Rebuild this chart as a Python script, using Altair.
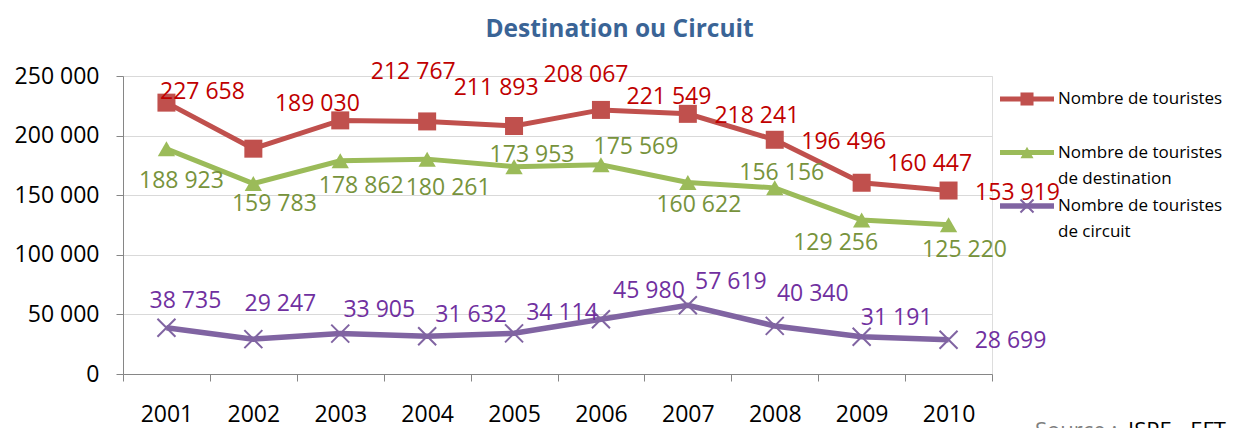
import altair as alt
import pandas as pd

FONT = "Open Sans"

years = ["2001", "2002", "2003", "2004", "2005", "2006", "2007", "2008", "2009", "2010"]
series_names = [
    "Nombre de touristes",
    "Nombre de touristes de destination",
    "Nombre de touristes de circuit",
]
total = [227658, 189030, 212767, 211893, 208067, 221549, 218241, 196496, 160447, 153919]
destination = [188923, 159783, 178862, 180261, 173953, 175569, 160622, 156156, 129256, 125220]
circuit = [38735, 29247, 33905, 31632, 34114, 45980, 57619, 40340, 31191, 28699]
legend_line1 = ["Nombre de touristes", "Nombre de touristes", "Nombre de touristes"]
legend_line2 = ["", "de destination", "de circuit"]
y_ticks = [0, 50000, 100000, 150000, 200000, 250000]
source_prefix = "Source :"
source_name = "ISPE - EFT"

# label nudges (pixels, relative to each point) as placed in the original
nudge_total = [(36, -11), (64, -45), (73, -48), (69, -33), (72, -51),
               (68, -13), (69, 2), (69, 2), (68, -19), (69, 2)]
nudge_dest = [(15, 32), (21, 20), (21, 25), (21, 29), (18, -12),
              (35, -18), (11, 22), (7, -15), (-26, 23), (16, 25)]
nudge_circ = [(19, -27), (27, -35), (39, -24), (44, -21), (48, -20),
              (48, -28), (43, -23), (38, -32), (35, -19), (62, 1)]

rows = []
for name, vals in zip(series_names, [total, destination, circuit]):
    for y, v in zip(years, vals):
        rows.append({"series": name, "year": y, "value": v,
                     "label": f"{v:,}".replace(",", " ")})
df = pd.DataFrame(rows)
leg_df = pd.DataFrame({"series": series_names, "l1": legend_line1, "l2": legend_line2})
src_df = pd.DataFrame({"p": [source_prefix], "n": [source_name]})

x_enc = alt.X(
    "year:O",
    scale=alt.Scale(type="band", domain=years, paddingInner=0, paddingOuter=0),
    bandPosition=0.5,
    title=None,
    axis=alt.Axis(tickBand="extent", labelAngle=0, domainColor="#868686",
                  tickColor="#868686", tickSize=7, labelPadding=22,
                  labelFont=FONT, labelFontSize=23, labelColor="black", grid=False),
)
y_enc = alt.Y(
    "value:Q",
    scale=alt.Scale(domain=[0, 250000], nice=False, zero=True),
    title=None,
    axis=alt.Axis(values=y_ticks, labelExpr="replace(format(datum.value, ','), ',', ' ')",
                  gridColor="#D9D9D9", domainColor="#868686", tickColor="#868686",
                  tickSize=7, labelPadding=17, labelFont=FONT, labelFontSize=23,
                  labelColor="black"),
)

styles = [
    # name, line color, label color, shape, filled, size, line width, nudges
    (series_names[0], "#C0504D", "#C00000", "square", True, 324, 5, nudge_total),
    (series_names[1], "#9BBB59", "#77933C", "triangle-up", True, 300, 5, nudge_dest),
    (series_names[2], "#8064A2", "#7030A0", "M-1,-1L1,1M-1,1L1,-1", False, 324, 5.5, nudge_circ),
]

data_layers = []
label_layers = []
legend_layers = []
leg_y = alt.Y("series:N", scale=alt.Scale(type="point", domain=series_names, range=[23, 130], padding=0), axis=None)
for name, lc, tc, shape, filled, size, lw, nudges in styles:
    base = alt.Chart(df).transform_filter(alt.datum.series == name)
    data_layers.append(base.mark_line(color=lc, strokeWidth=lw).encode(x=x_enc, y=y_enc))
    data_layers.append(base.mark_point(shape=shape, filled=filled, color=lc, size=size,
                                       opacity=1, strokeWidth=2).encode(x=x_enc, y=y_enc))
    for yr, (dx, dy) in zip(years, nudges):
        label_layers.append(
            alt.Chart(df)
            .transform_filter((alt.datum.series == name) & (alt.datum.year == yr))
            .mark_text(color=tc, font=FONT, fontSize=23, dx=dx, dy=dy)
            .encode(x=x_enc, y=y_enc, text="label:N")
        )

    lb = alt.Chart(leg_df).transform_filter(alt.datum.series == name)
    legend_layers.append(lb.mark_rule(color=lc, strokeWidth=lw).encode(
        x=alt.value(877), x2=alt.value(931), y=leg_y))
    legend_layers.append(lb.mark_point(shape=shape, filled=filled, color=lc, size=170,
                                       opacity=1, strokeWidth=2).encode(x=alt.value(904), y=leg_y))
    legend_layers.append(lb.mark_text(align="left", baseline="middle", font=FONT, fontSize=17,
                                      color="black").encode(x=alt.value(935), y=leg_y, text="l1:N"))
    legend_layers.append(lb.mark_text(align="left", baseline="middle", font=FONT, fontSize=17,
                                      color="black", dy=26).encode(x=alt.value(935), y=leg_y, text="l2:N"))

source_layers = [
    alt.Chart(src_df).mark_text(align="left", baseline="alphabetic", font=FONT, fontSize=22,
                                color="#7F7F7F").encode(x=alt.value(912), y=alt.value(362), text="p:N"),
    alt.Chart(src_df).mark_text(align="left", baseline="alphabetic", font=FONT, fontSize=22,
                                color="black").encode(x=alt.value(1005), y=alt.value(362), text="n:N"),
]

chart = alt.layer(
    alt.layer(*data_layers, *label_layers),
    alt.layer(*legend_layers, *source_layers),
).resolve_scale(y="independent").properties(
    width=869,
    height=298,
    padding={"left": 115, "top": 68, "right": 237, "bottom": 54},
    autosize=alt.AutoSizeParams(type="none"),
    title=alt.Title("Destination ou Circuit", font=FONT, fontSize=24.5, fontWeight="bold",
                    color="#3A6496", anchor="middle", frame="group", dx=62, offset=19),
).configure_view(stroke=None).configure(background="white")

chart.save("out.html", embed_options={"renderer": "svg", "actions": False})
